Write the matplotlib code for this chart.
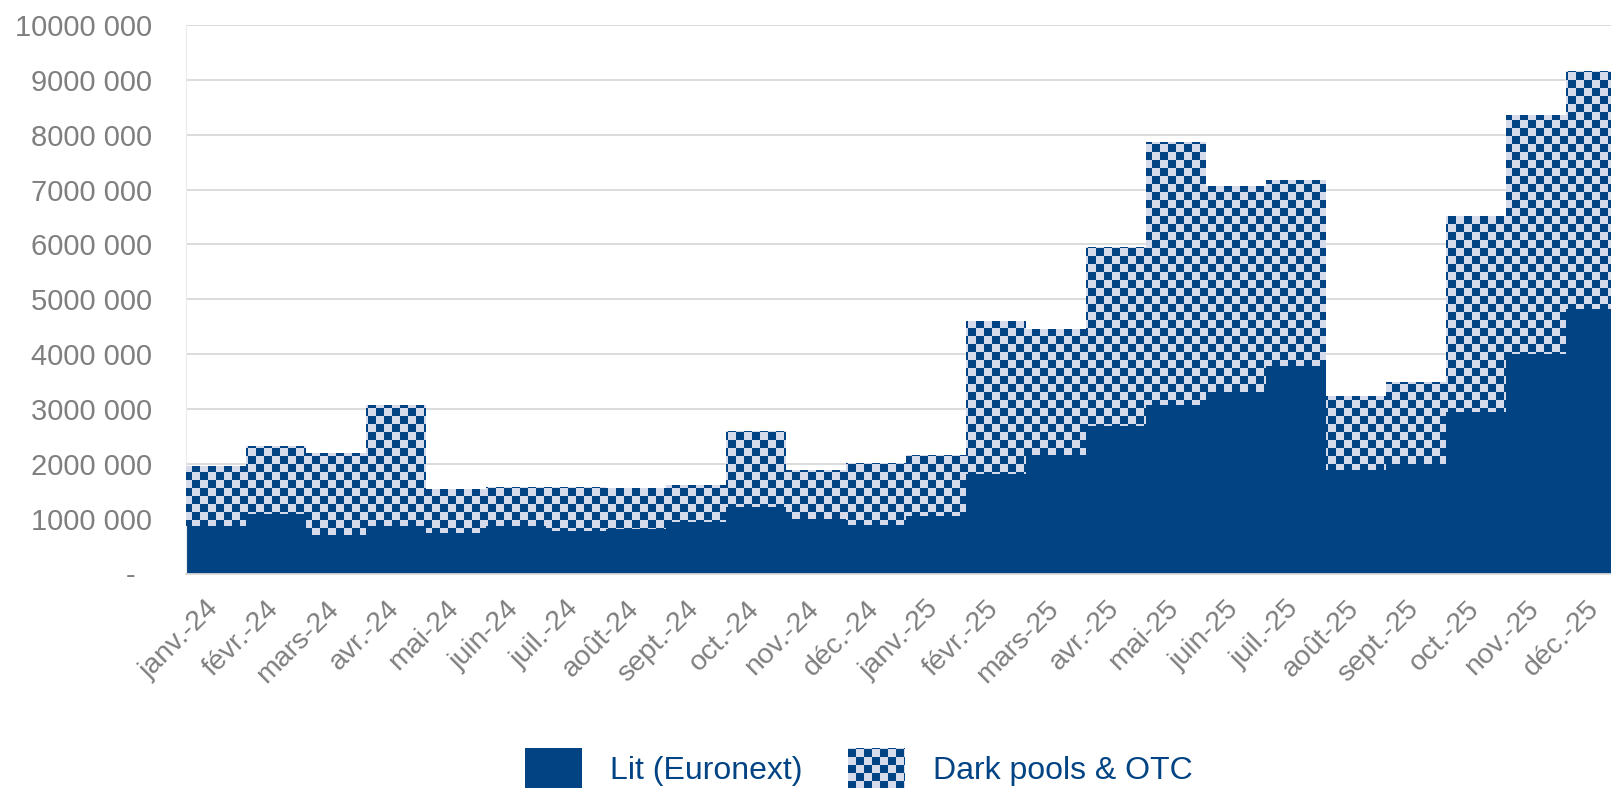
import numpy as np
import matplotlib
matplotlib.use("Agg")
import matplotlib.pyplot as plt
import matplotlib.transforms as mtransforms
from matplotlib.patches import Rectangle, Patch, PathPatch
from matplotlib.path import Path
from matplotlib.legend_handler import HandlerBase
from matplotlib.ticker import FuncFormatter

plt.rcParams['font.family'] = ['Liberation Sans', 'DejaVu Sans']

# volumes mensuels (en unités)
mois = ['janv.-24', 'févr.-24', 'mars-24', 'avr.-24', 'mai-24', 'juin-24',
        'juil.-24', 'août-24', 'sept.-24', 'oct.-24', 'nov.-24', 'déc.-24',
        'janv.-25', 'févr.-25', 'mars-25', 'avr.-25', 'mai-25', 'juin-25',
        'juil.-25', 'août-25', 'sept.-25', 'oct.-25', 'nov.-25', 'déc.-25']
lit = [860000, 1080000, 700000, 870000, 740000, 860000,
       780000, 810000, 940000, 1220000, 1000000, 880000,
       1050000, 1810000, 2160000, 2690000, 3080000, 3300000,
       3780000, 1890000, 2000000, 2940000, 4010000, 4830000]
dark = [1100000, 1250000, 1490000, 2210000, 800000, 710000,
        790000, 750000, 680000, 1370000, 890000, 1140000,
        1110000, 2790000, 2290000, 3260000, 4790000, 3770000,
        3400000, 1350000, 1500000, 3570000, 4350000, 4340000]

BLEU = '#014383'
CLAIR = '#D6DBEB'
GRIS = '#7f7f7f'
CASE = 8  # taille d'une case du damier, en pixels

W, H = 1611, 788
fig = plt.figure(figsize=(W / 100, H / 100), dpi=100)
ax = fig.add_axes([186 / W, (H - 573.5) / H, 1440 / W, (573.5 - 25) / H])

x = np.arange(len(mois))
ax.bar(x, lit, width=1.0, color=BLEU, linewidth=0, zorder=2)
barres_dark = ax.bar(x, dark, bottom=lit, width=1.0, color=CLAIR,
                     linewidth=0, zorder=2)

ax.set_xlim(-0.5, len(mois) - 0.5)
ax.set_ylim(0, 10_000_000)
ax.set_yticks(np.arange(0, 10_000_001, 1_000_000))


def fmt(v, _):
    v = int(round(v))
    if v == 0:
        return '-  '
    return f"{v // 1000} {v % 1000:03d}"


ax.yaxis.set_major_formatter(FuncFormatter(fmt))
ax.set_xticks(x)
ax.set_xticklabels(mois, rotation=45, ha='right')
ax.tick_params(axis='y', length=0, pad=24.5, labelsize=21, labelcolor=GRIS)
ax.tick_params(axis='x', length=0, pad=16, labelsize=20.5, labelcolor=GRIS)

# léger décalage des étiquettes inclinées vers la droite
decalage = mtransforms.ScaledTranslation(6 / 72, 0, fig.dpi_scale_trans)
for lab in ax.get_xticklabels():
    lab.set_transform(lab.get_transform() + decalage)

ax.yaxis.grid(True, color='#d9d9d9', linewidth=1.3)
ax.set_axisbelow(True)
for s in ['top', 'right']:
    ax.spines[s].set_visible(False)
ax.spines['left'].set_color('#ececec')
ax.spines['bottom'].set_color('#d9d9d9')
ax.spines['bottom'].set_linewidth(1.3)

# damier par-dessus les barres "dark pools", découpé sur leur contour
yy, xx = np.mgrid[0:H, 0:W]
damier = ((xx // CASE + yy // CASE) % 2 == 0)
rgb_bleu = np.array(matplotlib.colors.to_rgb(BLEU))
rgb_clair = np.array(matplotlib.colors.to_rgb(CLAIR))
img = np.where(damier[..., None], rgb_bleu, rgb_clair)
chemin = Path.make_compound_path(
    *[b.get_path().transformed(b.get_patch_transform()) for b in barres_dark])
fi = fig.figimage(img, xo=0, yo=0, origin='upper', zorder=3)
fi.set_clip_path(PathPatch(chemin, transform=ax.transData))


class DamierHandler(HandlerBase):
    def create_artists(self, legend, orig_handle, xdescent, ydescent,
                       width, height, fontsize, trans):
        c = CASE * 72 / fig.dpi
        arts = [Rectangle((-xdescent, -ydescent), width, height,
                          facecolor=CLAIR, linewidth=0, transform=trans)]
        nx = int(np.ceil(width / c))
        ny = int(np.ceil(height / c))
        for i in range(nx):
            for j in range(ny):
                if (i + j) % 2 == 0:
                    w = min(c, width - i * c)
                    h = min(c, height - j * c)
                    arts.append(Rectangle((-xdescent + i * c, -ydescent + j * c),
                                          w, h, facecolor=BLEU, linewidth=0,
                                          transform=trans))
        return arts


h_lit = Patch(facecolor=BLEU, linewidth=0)
h_dark = Patch(facecolor=CLAIR, linewidth=0)
fig.legend([h_lit, h_dark], ['Lit (Euronext)', 'Dark pools & OTC'],
           handler_map={h_dark: DamierHandler()},
           loc='center', bbox_to_anchor=(0.5332, 0.025), ncol=2,
           frameon=False, fontsize=23, labelcolor=BLEU,
           handlelength=1.79, handleheight=1.6, handletextpad=0.88,
           columnspacing=1.41)

fig.savefig('out.png', dpi=100)
